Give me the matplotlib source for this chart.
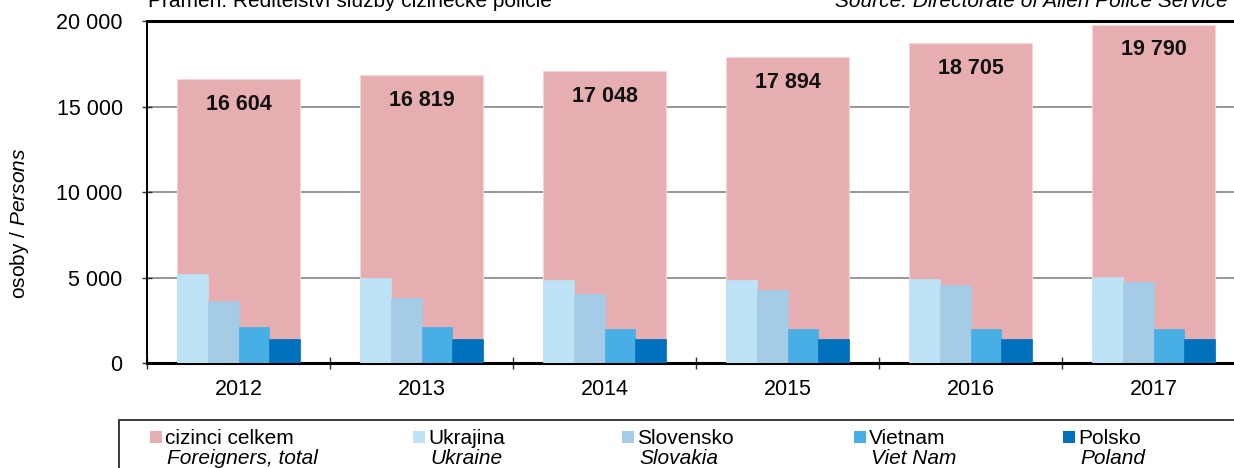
import matplotlib
matplotlib.use('Agg')
import matplotlib.pyplot as plt
import numpy as np
from matplotlib.patches import Rectangle

# ---- data ----
years = ['2012', '2013', '2014', '2015', '2016', '2017']
total = [16604, 16819, 17048, 17894, 18705, 19790]
ukraine = [5190, 4980, 4830, 4880, 4900, 5040]
slovakia = [3650, 3830, 4060, 4280, 4550, 4750]
vietnam = [2090, 2130, 1970, 2010, 1970, 2010]
poland = [1430, 1430, 1390, 1410, 1410, 1430]
yticks = [0, 5000, 10000, 15000, 20000]

leg_cz = ['cizinci celkem', 'Ukrajina', 'Slovensko', 'Vietnam', 'Polsko']
leg_en = ['Foreigners, total', 'Ukraine', 'Slovakia', 'Viet Nam', 'Poland']

# ---- style ----
c_total = '#E7AEB1'
c_small = ['#BFE3F6', '#A5CCE7', '#48AEE6', '#0072BD']
leg_colors = [c_total] + c_small
leg_x = [150, 413, 622, 854, 1063]

plt.rcParams['font.family'] = ['Liberation Sans', 'DejaVu Sans']
plt.rcParams['mathtext.fontset'] = 'custom'
plt.rcParams['mathtext.rm'] = 'Liberation Sans'
plt.rcParams['mathtext.it'] = 'Liberation Sans:italic'

W, H = 1234, 468
fig = plt.figure(figsize=(W / 100, H / 100), dpi=100)
ax = fig.add_axes([147 / W, 105 / H, 1098 / W, 342 / H])

def fmt(v):
    return f"{v:,}".replace(',', ' ')

x = np.arange(len(years))
bw = 0.667
ax.bar(x, total, width=bw, color=c_total, edgecolor='#F3D6D8', linewidth=0.8, zorder=2)
sw = bw / 4
offs = (np.arange(4) - 1.5) * sw
for i, vals in enumerate([ukraine, slovakia, vietnam, poland]):
    ax.bar(x + offs[i], vals, width=sw, color=c_small[i], edgecolor=c_small[i],
           linewidth=0.5, zorder=3)

for xi, v in zip(x, total):
    ax.annotate(fmt(v), (xi, v), xytext=(0, -25 * 0.72), textcoords='offset points',
                ha='center', va='center', fontsize=15.5, fontweight='bold', color='#111111',
                zorder=5)

ax.set_xlim(-0.5, len(years) - 0.5)
ax.set_ylim(0, 20000)
ax.set_axisbelow(True)
ax.yaxis.grid(True, color='#8f8f8f', linewidth=1.3)
ax.set_yticks(yticks)
ax.set_yticklabels([fmt(v) for v in yticks])
ax.tick_params(axis='y', direction='inout', length=7, width=1, color='#333333',
               labelsize=15.5, pad=14)

ax.set_xticks(np.arange(len(years) + 1) - 0.5)
ax.set_xticklabels([])
ax.set_xticks(x, minor=True)
ax.set_xticklabels(years, minor=True)
ax.tick_params(axis='x', which='major', direction='inout', length=8.6, width=1,
               color='#333333')
ax.tick_params(axis='x', which='minor', length=0, labelsize=15.5, pad=11.5)

for s, lw in [('top', 2.2), ('left', 1.4), ('bottom', 2.2), ('right', 1.4)]:
    ax.spines[s].set_linewidth(lw)
    ax.spines[s].set_color('black')

fig.text(20 / W, 1 - 223 / H, 'osoby / $\\mathit{Persons}$', rotation=90,
         ha='center', va='center', fontsize=15)

fig.text(148 / W, 1 - 7 / H, 'Pramen: Ředitelství služby cizinecké policie',
         va='baseline', ha='left', fontsize=15)
fig.text(835 / W, 1 - 7 / H, 'Source: Directorate of Alien Police Service',
         va='baseline', ha='left', fontsize=15, style='italic')

# legend box
fig.add_artist(Rectangle((119 / W, -0.1), (1300 - 119) / W, (1 - 420 / H) + 0.1,
                         transform=fig.transFigure, fill=False,
                         edgecolor='#3a3a3a', linewidth=1.4))
for px, cz, en, col in zip(leg_x, leg_cz, leg_en, leg_colors):
    fig.add_artist(Rectangle((px / W, 1 - 443 / H), 12 / W, 12 / H,
                             transform=fig.transFigure, facecolor=col, edgecolor='none'))
    fig.text((px + 15) / W, 1 - 444 / H, cz, va='baseline', ha='left', fontsize=15)
    fig.text((px + 17) / W, 1 - 464 / H, en, va='baseline', ha='left', fontsize=15,
             style='italic')

fig.savefig('out.png', dpi=100)
